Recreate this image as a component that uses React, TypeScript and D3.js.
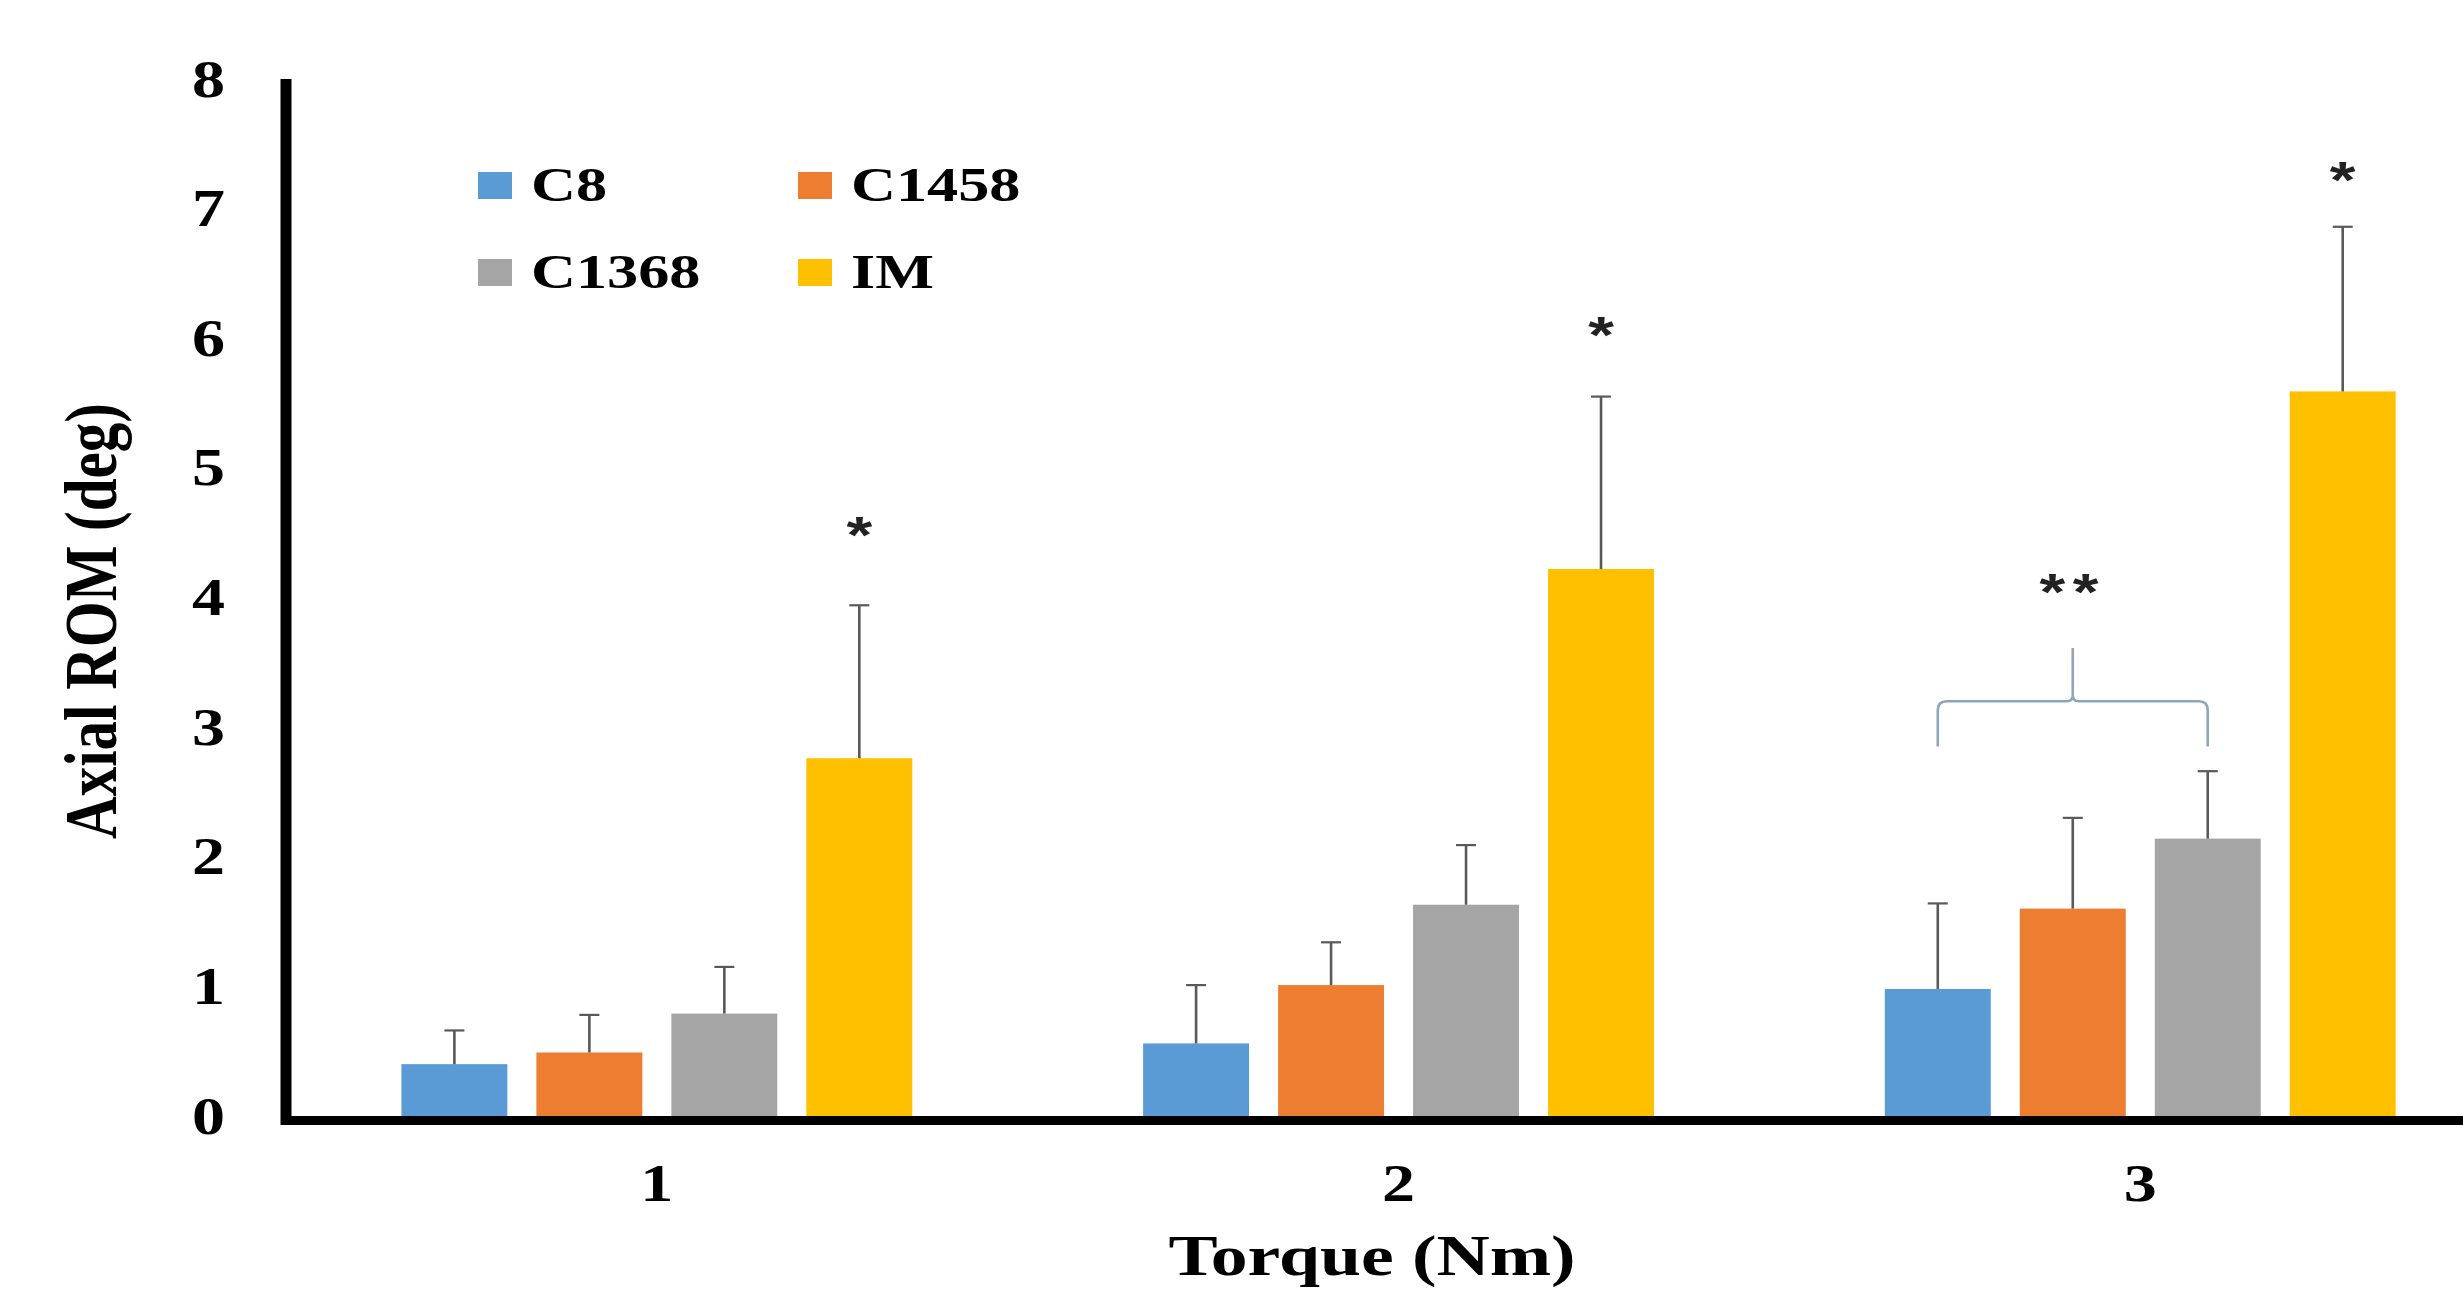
import React from "react";
import * as d3 from "d3";

const categories = ["1", "2", "3"];
const seriesNames = ["C8", "C1458", "C1368", "IM"];
const seriesColors = ["#5B9BD5", "#ED7D31", "#A5A5A5", "#FFC000"];

const meanC8 = [0.4, 0.56, 0.98];
const sdC8 = [0.26, 0.45, 0.66];
const meanC1458 = [0.49, 1.01, 1.6];
const sdC1458 = [0.29, 0.33, 0.7];
const meanC1368 = [0.79, 1.63, 2.14];
const sdC1368 = [0.36, 0.46, 0.52];
const meanIM = [2.76, 4.22, 5.59];
const sdIM = [1.18, 1.33, 1.27];

const yTicks = [0, 1, 2, 3, 4, 5, 6, 7, 8];

// significance annotations (value units)
const starLevels = [4.56, 6.1, 7.3];
const bracketTop = 3.2;
const bracketEnd = 2.85;
const bracketSpike = 3.61;
const doubleStarLevel = 4.12;

const W = 2463;
const H = 1290;
const SX = 1.27; // horizontal stretch of the original picture's text

export default function App() {
  const means = [meanC8, meanC1458, meanC1368, meanIM];
  const sds = [sdC8, sdC1458, sdC1368, sdIM];

  const axisX = 286;
  const x0 = d3
    .scaleBand<string>()
    .domain(categories)
    .range([axisX, axisX + 3 * 741.7])
    .padding(0);
  const x1 = d3
    .scaleBand<string>()
    .domain(seriesNames)
    .range([0, x0.bandwidth()])
    .paddingInner(0.215)
    .paddingOuter(0.855);
  const y = d3.scaleLinear().domain([0, 8]).range([1116, 79]);

  const serif = "'Liberation Serif', 'Times New Roman', serif";
  const sans = "'Liberation Sans', Arial, sans-serif";
  const errColor = "#595959";
  const bw = x1.bandwidth();

  // bracket in group 3, between C8 and C1368
  const g3 = x0(categories[2])!;
  const bxL = g3 + x1("C8")! + bw / 2;
  const bxR = g3 + x1("C1368")! + bw / 2;
  const bxM = (bxL + bxR) / 2;
  const yT = y(bracketTop);
  const yE = y(bracketEnd);
  const yS = y(bracketSpike);
  const r = 9;
  const bracePath = [
    `M${bxL},${yE}`,
    `L${bxL},${yT + r}`,
    `Q${bxL},${yT} ${bxL + r},${yT}`,
    `L${bxM - 6},${yT}`,
    `Q${bxM},${yT} ${bxM},${yT - 6}`,
    `L${bxM},${yS}`,
    `M${bxM},${yT - 6}`,
    `Q${bxM},${yT} ${bxM + 6},${yT}`,
    `L${bxR - r},${yT}`,
    `Q${bxR},${yT} ${bxR},${yT + r}`,
    `L${bxR},${yE}`,
  ].join(" ");

  const legendCols = [478, 798];
  const legendRows = [201, 288];

  return (
    <svg
      width={W}
      height={H}
      style={{ position: "absolute", left: 0, top: 0, background: "#fff" }}
    >
      <rect x={0} y={0} width={W} height={H} fill="#fff" />

      {/* bars */}
      {categories.map((c, ci) => (
        <g key={c} transform={`translate(${x0(c)},0)`}>
          {seriesNames.map((s, si) => {
            const v = means[si][ci];
            const e = v + sds[si][ci];
            const bx = x1(s)!;
            const cx = bx + bw / 2;
            return (
              <g key={s}>
                <rect
                  x={bx}
                  y={y(v)}
                  width={bw}
                  height={y(0) - y(v)}
                  fill={seriesColors[si]}
                />
                <line x1={cx} x2={cx} y1={y(v)} y2={y(e)} stroke={errColor} strokeWidth={2.6} />
                <line x1={cx - 10} x2={cx + 10} y1={y(e)} y2={y(e)} stroke={errColor} strokeWidth={2.2} />
              </g>
            );
          })}
        </g>
      ))}

      {/* single stars over IM */}
      {categories.map((c, ci) => {
        const cx = x0(c)! + x1("IM")! + bw / 2;
        return (
          <text
            key={"st" + c}
            transform={`translate(${cx},${y(starLevels[ci]) + 28}) scale(${SX},1)`}
            textAnchor="middle"
            fontFamily={sans}
            fontWeight="bold"
            fontSize={52}
            fill="#222"
          >
            *
          </text>
        );
      })}

      {/* bracket and double star */}
      <path d={bracePath} fill="none" stroke="#8EA6BC" strokeWidth={2.6} />
      <text
        transform={`translate(${bxM},${y(doubleStarLevel) + 28}) scale(${SX},1)`}
        textAnchor="middle"
        fontFamily={sans}
        fontWeight="bold"
        fontSize={52}
        letterSpacing={6}
        fill="#222"
      >
        **
      </text>

      {/* axes */}
      <line x1={axisX} x2={axisX} y1={y(8)} y2={1125} stroke="#000" strokeWidth={11} />
      <line x1={axisX - 5} x2={W} y1={1120.5} y2={1120.5} stroke="#000" strokeWidth={9} />

      {/* y ticks */}
      {yTicks.map((t) => (
        <text
          key={"y" + t}
          transform={`translate(225,${y(t) + 17.5}) scale(${SX},1)`}
          textAnchor="end"
          fontFamily={serif}
          fontWeight="bold"
          fontSize={52}
          fill="#000"
        >
          {t}
        </text>
      ))}

      {/* x ticks */}
      {categories.map((c) => (
        <text
          key={"x" + c}
          transform={`translate(${x0(c)! + x0.bandwidth() / 2},1201) scale(${SX},1)`}
          textAnchor="middle"
          fontFamily={serif}
          fontWeight="bold"
          fontSize={52}
          fill="#000"
        >
          {c}
        </text>
      ))}

      {/* axis titles */}
      <text
        transform={`translate(1372,1275) scale(${SX},1)`}
        textAnchor="middle"
        fontFamily={serif}
        fontWeight="bold"
        fontSize={58}
        fill="#000"
      >
        Torque (Nm)
      </text>
      <text
        transform={`translate(116,621) scale(${SX},1) rotate(-90)`}
        textAnchor="middle"
        fontFamily={serif}
        fontWeight="bold"
        fontSize={59}
        fill="#000"
      >
        Axial ROM (deg)
      </text>

      {/* legend */}
      {seriesNames.map((s, i) => {
        const lx = legendCols[i % 2];
        const ly = legendRows[Math.floor(i / 2)];
        return (
          <g key={"lg" + s}>
            <rect x={lx} y={ly - 29} width={34} height={27} fill={seriesColors[i]} />
            <text
              transform={`translate(${lx + 53},${ly}) scale(${SX},1)`}
              fontFamily={serif}
              fontWeight="bold"
              fontSize={49}
              fill="#000"
            >
              {s}
            </text>
          </g>
        );
      })}
    </svg>
  );
}
